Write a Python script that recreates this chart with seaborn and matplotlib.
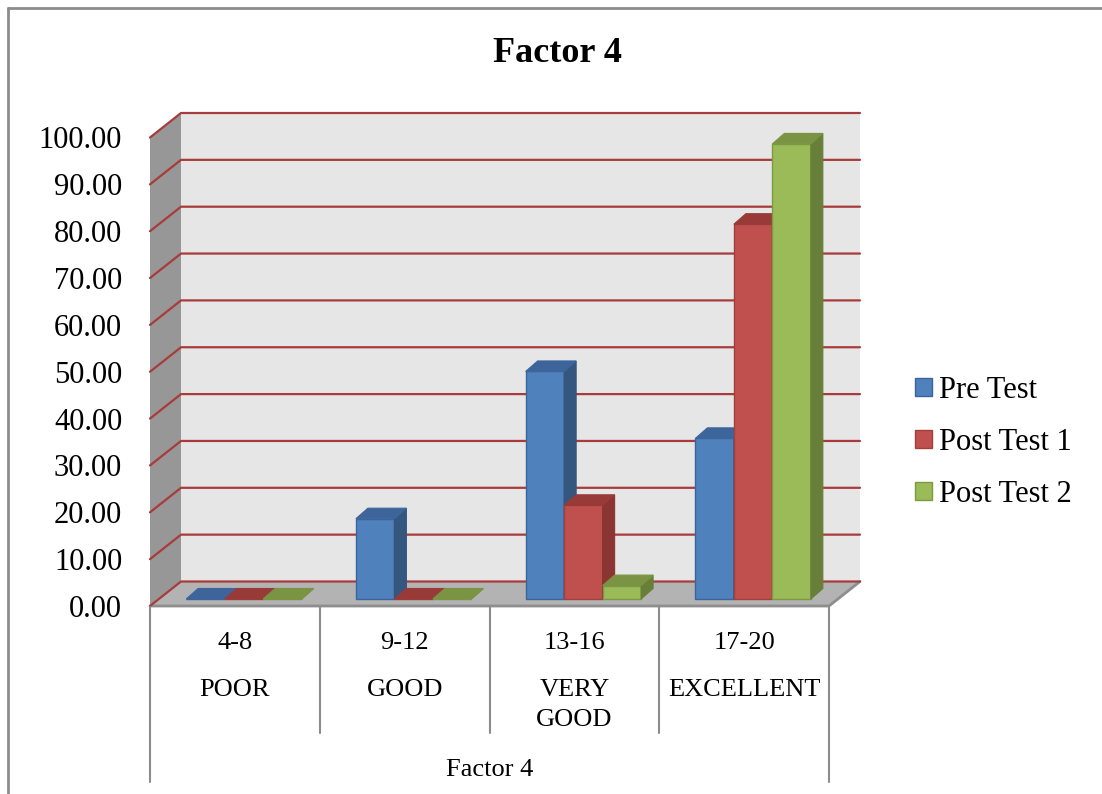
import matplotlib
matplotlib.use("Agg")
import matplotlib.pyplot as plt
from matplotlib.patches import Polygon, Patch
from matplotlib.lines import Line2D
import matplotlib.transforms as mtransforms
import pandas as pd
import seaborn as sns

# ---- chart data -------------------------------------------------------
title = "Factor 4"
axis_title = "Factor 4"
score_ranges = ["4-8", "9-12", "13-16", "17-20"]
grades = ["POOR", "GOOD", "VERY\nGOOD", "EXCELLENT"]
series = ["Pre Test", "Post Test 1", "Post Test 2"]
pre_test = [0.00, 17.14, 48.57, 34.29]
post_test_1 = [0.00, 0.00, 20.00, 80.00]
post_test_2 = [0.00, 0.00, 2.86, 97.14]
y_ticks = [0, 10, 20, 30, 40, 50, 60, 70, 80, 90, 100]

# ---- styling ----------------------------------------------------------
front_colors = ["#4F81BD", "#C0504D", "#9BBB59"]
side_colors = ["#34567F", "#8A3532", "#687F39"]
top_colors = ["#3D659B", "#983B38", "#7A9443"]
edge_colors = ["#3A659C", "#A23E3B", "#7C9A44"]
wall_back = "#E6E6E6"
wall_side = "#979797"
floor_col = "#B3B3B3"
grid_col = "#A83B3B"
frame_col = "#8C8C8C"

W, H, DPI = 1102, 794, 100

sns.set_style("white")
plt.rcParams["font.family"] = ["Liberation Serif", "DejaVu Serif"]
plt.rcParams["text.color"] = "black"
plt.rcParams["xtick.color"] = "black"
plt.rcParams["ytick.color"] = "black"
plt.rcParams["ytick.labelcolor"] = "black"

df = pd.DataFrame({
    "range": score_ranges * 3,
    "value": pre_test + post_test_1 + post_test_2,
    "series": [s for s in series for _ in score_ranges],
})

fig = plt.figure(figsize=(W / DPI, H / DPI), dpi=DPI)
fig.patch.set_facecolor("white")

# axes box = front edge of the floor / left wall (pixel geometry)
ax_left, ax_right, ax_bottom, ax_top = 150, 829, 606, 137.5
ax = fig.add_axes([ax_left / W, (H - ax_bottom) / H,
                   (ax_right - ax_left) / W, (ax_bottom - ax_top) / H])
ax.set_facecolor("none")
for s in ax.spines.values():
    s.set_visible(False)

sns.barplot(data=df, x="range", y="value", hue="series",
            order=score_ranges, hue_order=series, palette=front_colors,
            width=0.68, saturation=1, legend=False, ax=ax)
ax.set_xlim(-0.5, len(score_ranges) - 0.5)
ax.set_ylim(0, 100)

# pixel -> data conversion for the oblique depth offsets
px_x = (ax_right - ax_left) / (len(score_ranges))
px_y = (ax_bottom - ax_top) / 100.0


def off(dx_px, dy_px):
    return dx_px / px_x, dy_px / px_y


Dx, Dy = off(31, 24.5)      # full depth of the floor / walls
Fx, Fy = off(9, 7)          # set-back of the bar front faces
Bx, By = off(12, 10.5)      # bar depth

x0, x1 = -0.5, len(score_ranges) - 0.5
common = dict(clip_on=False)

# back wall
ax.add_patch(Polygon([(x0 + Dx, Dy), (x1 + Dx, Dy), (x1 + Dx, 100 + Dy),
                      (x0 + Dx, 100 + Dy)], closed=True, facecolor=wall_back,
                     edgecolor="none", zorder=1, **common))
# left wall
ax.add_patch(Polygon([(x0, 0), (x0 + Dx, Dy), (x0 + Dx, 100 + Dy), (x0, 100)],
                     closed=True, facecolor=wall_side, edgecolor="none",
                     zorder=1.1, **common))
# floor
ax.add_patch(Polygon([(x0, 0), (x1, 0), (x1 + Dx, Dy), (x0 + Dx, Dy)],
                     closed=True, facecolor=floor_col, edgecolor="none",
                     zorder=1.2, **common))
ax.add_line(Line2D([x0, x1, x1 + Dx], [0, 0, Dy], color="#8E8E8E", lw=2,
                   zorder=1.3, solid_joinstyle="miter", **common))

# gridlines on back wall and left wall
for v in y_ticks:
    ax.add_line(Line2D([x0, x0 + Dx, x1 + Dx], [v, v + Dy, v + Dy],
                       color=grid_col, lw=1.6, zorder=1.5, **common))

# bars: shift front faces back, then add side and top faces
bars = []
for cont, fc, sc, tc, ec in zip(ax.containers, front_colors, side_colors,
                                top_colors, edge_colors):
    for rect in cont:
        bars.append((rect.get_x(), rect, sc, tc, ec))
bars.sort(key=lambda b: b[0])
for rank, (_, rect, sc, tc, ec) in enumerate(bars):
    z = 3 + rank * 0.01
    bx0 = rect.get_x() + Fx
    w = rect.get_width()
    h = rect.get_height()
    rect.set_x(bx0)
    rect.set_y(Fy)
    rect.set_edgecolor(ec)
    rect.set_linewidth(1)
    rect.set_zorder(z)
    rect.set_clip_on(False)
    bx1 = bx0 + w
    yb, yt = Fy, Fy + h
    ax.add_patch(Polygon([(bx1, yb), (bx1 + Bx, yb + By), (bx1 + Bx, yt + By),
                          (bx1, yt)], closed=True, facecolor=sc,
                         edgecolor=sc, lw=0.8, zorder=z + 0.003, **common))
    ax.add_patch(Polygon([(bx0, yt), (bx1, yt), (bx1 + Bx, yt + By),
                          (bx0 + Bx, yt + By)], closed=True, facecolor=tc,
                         edgecolor=tc, lw=0.8, zorder=z + 0.006, **common))

# value axis labels
ax.set_yticks(y_ticks)
ax.set_yticklabels([f"{v:.2f}" for v in y_ticks], fontsize=22, color="black")
ax.tick_params(axis="y", length=0, pad=20)
ax.tick_params(axis="x", length=0, labelbottom=False)
ax.set_xlabel("")
ax.set_ylabel("")
ax.grid(False)

# category table below the floor
blend = mtransforms.blended_transform_factory(ax.transData, fig.transFigure)


def fy(px):
    return (H - px) / H


for i in range(len(score_ranges) + 1):
    xb = x0 + i
    outer = i in (0, len(score_ranges))
    ax.add_line(Line2D([xb, xb], [fy(607), fy(782 if outer else 733)],
                       transform=blend, color=frame_col, lw=1.5, **common))

for i, (rng, grade) in enumerate(zip(score_ranges, grades)):
    ax.text(i, fy(649), rng, transform=blend, ha="center", va="baseline",
            fontsize=19, color="black")
    for j, line in enumerate(grade.split("\n")):
        ax.text(i, fy(696 + 30 * j), line, transform=blend, ha="center",
                va="baseline", fontsize=19, color="black")
ax.text(1.5, fy(776), axis_title, transform=blend, ha="center",
        va="baseline", fontsize=19, color="black")

# title
fig.text(557 / W, fy(62), title, ha="center", va="baseline", fontsize=26,
         fontweight="bold", color="black")

# legend
handles = [Patch(facecolor=fc, edgecolor=ec, linewidth=1)
           for fc, ec in zip(front_colors, edge_colors)]
leg = fig.legend(handles, series, loc="upper left",
                 bbox_to_anchor=(915 / W, fy(376)), frameon=False,
                 fontsize=22, handlelength=0.55, handleheight=0.55,
                 handletextpad=0.25, labelspacing=0.75, borderpad=0,
                 borderaxespad=0)
for t in leg.get_texts():
    t.set_color("black")

# chart frame (top and left edges)
fig.add_artist(Line2D([8 / W, 8 / W], [0, fy(8)], transform=fig.transFigure,
                      color=frame_col, lw=2))
fig.add_artist(Line2D([8 / W, 1], [fy(8), fy(8)], transform=fig.transFigure,
                      color=frame_col, lw=2))

fig.savefig("out.png", dpi=DPI)
